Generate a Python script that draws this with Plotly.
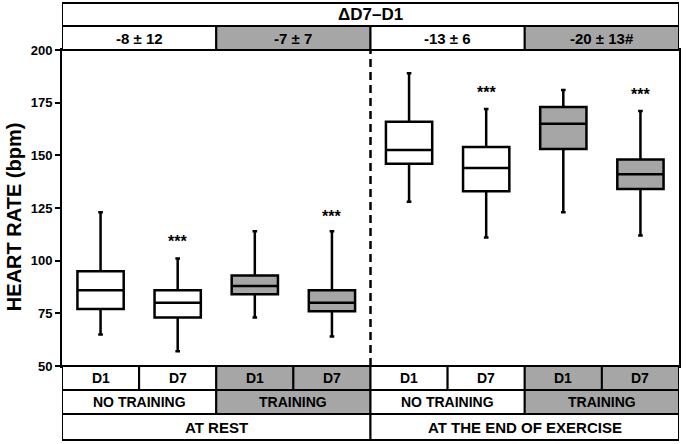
import plotly.graph_objects as go

# ---- data ----
day_labels = ["D1", "D7", "D1", "D7", "D1", "D7", "D1", "D7"]
training_labels = ["NO TRAINING", "TRAINING", "NO TRAINING", "TRAINING"]
phase_labels = ["AT REST", "AT THE END OF EXERCISE"]
delta_labels = ["-8 ± 12", "-7 ± 7", "-13 ± 6", "-20 ± 13#"]
header_title = "ΔD7–D1"
y_title = "HEART RATE (bpm)"

lower = [65, 57, 73, 64, 128, 111, 123, 112]
q1 = [77, 73, 84, 76, 146, 133, 153, 134]
median = [86, 80, 88, 80, 152.5, 144, 165, 141]
q3 = [95, 86, 93, 86, 166, 154, 173, 148]
upper = [123, 101, 114, 114, 189, 172, 181, 171]
trained = [False, False, True, True, False, False, True, True]

star_pos = [1, 3, 5, 7]
star_y = [109, 121, 180, 179]
star_text = ["***", "***", "***", "***"]

y_ticks = [50, 75, 100, 125, 150, 175, 200]

GRAY = "#a6a6a6"
FONT = "Liberation Sans, Arial, sans-serif"

# ---- layout geometry (pixels) ----
W, H = 686, 444
ML, MR, MT, MB = 62, 5, 50, 78
PH = H - MT - MB  # plot height
PW = W - ML - MR


def py(p):
    """pixel y -> paper y"""
    return (H - MB - p) / PH


def px(p):
    """pixel x -> paper x"""
    return (p - ML) / PW


fig = go.Figure()
for i in range(8):
    fig.add_trace(go.Box(
        x=[i], q1=[q1[i]], median=[median[i]], q3=[q3[i]],
        lowerfence=[lower[i]], upperfence=[upper[i]],
        width=0.6, whiskerwidth=0.1,
        fillcolor=GRAY if trained[i] else "white",
        line=dict(color="black", width=2.5),
        boxpoints=False, showlegend=False, hoverinfo="skip",
    ))

shapes = []
annotations = []


def cell(x0, x1, p0, p1, text, fill, size=14):
    shapes.append(dict(type="rect", xref="x", yref="paper", x0=x0, x1=x1,
                       y0=py(p1), y1=py(p0), fillcolor=fill,
                       line=dict(color="black", width=2), layer="above"))
    annotations.append(dict(xref="x", yref="paper", x=(x0 + x1) / 2,
                            y=(py(p0) + py(p1)) / 2, text="<b>%s</b>" % text,
                            showarrow=False, xanchor="center", yanchor="middle",
                            font=dict(family=FONT, size=size, color="black")))


# header
cell(-0.5, 7.5, 3, 26, header_title, "white", 17)
for k, t in enumerate(delta_labels):
    cell(-0.5 + 2 * k, 1.5 + 2 * k, 26, MT, t, GRAY if k % 2 else "white", 15)

# footer
for i, t in enumerate(day_labels):
    cell(i - 0.5, i + 0.5, H - MB, 390, t, GRAY if trained[i] else "white", 14)
for k, t in enumerate(training_labels):
    cell(-0.5 + 2 * k, 1.5 + 2 * k, 390, 414, t, GRAY if k % 2 else "white", 14)
for k, t in enumerate(phase_labels):
    cell(-0.5 + 4 * k, 3.5 + 4 * k, 414, 440, t, "white", 15)

# dashed separator
shapes.append(dict(type="line", xref="x", yref="paper", x0=3.5, x1=3.5,
                   y0=0, y1=1, line=dict(color="black", width=2.5, dash="8px,5px")))

for x, y, t in zip(star_pos, star_y, star_text):
    annotations.append(dict(x=x, y=y, xref="x", yref="y", text="<b>%s</b>" % t,
                            showarrow=False, yanchor="middle",
                            font=dict(family=FONT, size=16, color="black")))

# y-axis title
annotations.append(dict(xref="paper", yref="paper", x=px(14), y=py(217),
                        text="<b>%s</b>" % y_title, textangle=-90,
                        showarrow=False, xanchor="center", yanchor="middle",
                        font=dict(family=FONT, size=20, color="black")))

fig.update_layout(
    width=W, height=H,
    margin=dict(l=ML, r=MR, t=MT, b=MB),
    plot_bgcolor="white", paper_bgcolor="white",
    shapes=shapes, annotations=annotations,
    font=dict(family=FONT, color="black"),
    xaxis=dict(range=[-0.5, 7.5], showticklabels=False, ticks="",
               showgrid=False, zeroline=False, showline=True, mirror=True,
               linecolor="black", linewidth=2),
    yaxis=dict(range=[50, 200], tickvals=y_ticks, ticks="outside", ticklen=5,
               tickwidth=2, tickcolor="black", showgrid=False, zeroline=False,
               showline=True, mirror=True, linecolor="black", linewidth=2,
               tickfont=dict(family=FONT, size=13, color="black", weight="bold")),
)

fig.write_html("out.html", config={"displayModeBar": False},
               post_script="document.body.style.margin='0px';"
                           "document.body.style.overflow='hidden';")
